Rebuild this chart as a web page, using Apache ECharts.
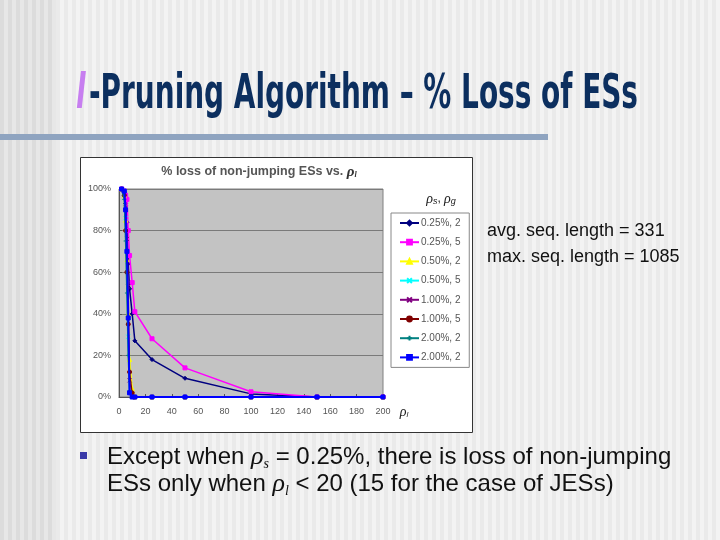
<!DOCTYPE html>
<html><head><meta charset="utf-8">
<script src="https://cdn.jsdelivr.net/npm/echarts@6/dist/echarts.min.js"></script>
<style>html,body{margin:0;padding:0;background:#f2f2f2}#c{width:720px;height:540px}</style>
</head><body><div id="c"></div>
<script>
// ---- data ----
const xs = [2, 4, 5, 6, 7, 8, 10, 12, 25, 50, 100, 150, 200];
const seriesNames = ['0.25%, 2', '0.25%, 5', '0.50%, 2', '0.50%, 5', '1.00%, 2', '1.00%, 5', '2.00%, 2', '2.00%, 2 '];
const s025_2 = [100, 99, 93, 84, 64, 52, 40, 27, 18, 9, 1.5, 0, 0];
const s025_5 = [100, 99, 97, 95, 80, 68, 55, 41, 28, 14, 2.5, 0, 0];
const s050_2 = [100, 97, 85, 66, 40, 18, 4, 0, 0, 0, 0, 0, 0];
const s050_5 = [100, 98, 86, 70, 29, 2, 0, 0, 0, 0, 0, 0, 0];
const s100_2 = [100, 98, 91, 76, 53, 8, 1, 0, 0, 0, 0, 0, 0];
const s100_5 = [100, 97, 80, 60, 35, 12, 2, 0, 0, 0, 0, 0, 0];
const s200_2a = [100, 95, 75, 50, 20, 3, 0, 0, 0, 0, 0, 0, 0];
const s200_2b = [100, 99, 90, 70, 38, 2, 0, 0, 0, 0, 0, 0, 0];
const yTicks = [0, 20, 40, 60, 80, 100];
const xTicks = [0, 20, 40, 60, 80, 100, 120, 140, 160, 180, 200];

// ---- styles ----
const allValues = [s025_2, s025_5, s050_2, s050_5, s100_2, s100_5, s200_2a, s200_2b];
const colors = ['#000080', '#ff00ff', '#ffff00', '#00ffff', '#800080', '#800000', '#008080', '#0000ff'];
const symbols = ['diamond', 'rect', 'triangle', 'path://M0,0L10,10M10,0L0,10', 'path://M0,0L10,10M10,0L0,10', 'circle', 'path://M5,0L5,10M0,5L10,5', 'path://M0,4L10,4L10,6L0,6Z'];
const widths = [1.5, 1.5, 1.5, 1.5, 1.2, 1.2, 1.5, 2];

const chart = echarts.init(document.getElementById('c'), null, {renderer: 'canvas'});

// background stripes
const bg = [];
bg.push({type: 'rect', shape: {x: 0, y: 0, width: 720, height: 540}, style: {fill: '#f3f3f3'}, z: -100});
for (let x = 0; x < 720; x += 8) {
  const dark = x < 56;
  bg.push({type: 'rect', shape: {x: x, y: 0, width: 4, height: 540}, style: {fill: dark ? '#dcdcdc' : '#eaeaea'}, z: -99});
  if (dark) bg.push({type: 'rect', shape: {x: x + 4, y: 0, width: 4, height: 540}, style: {fill: '#e7e7e7'}, z: -99});
}

// title scale via measurement
const titleMain = '-Pruning Algorithm \u2013 % Loss of ESs';
const titleFont = 'bold 48px "Liberation Sans Narrow", "DejaVu Sans Condensed", sans-serif';
const cv = document.createElement('canvas').getContext('2d');
cv.font = titleFont;
const tw = cv.measureText(titleMain).width;
const tScale = 549 / tw;

const rho = {fontFamily: 'Liberation Serif', fontStyle: 'italic', fontSize: 26, fill: '#111'};
const sub = {fontFamily: 'Liberation Serif', fontStyle: 'italic', fontSize: 14, fill: '#111', padding: [14, 0, 0, 0]};
const bodyFont = '24px "Liberation Sans", sans-serif';

const graphics = bg.concat([
  // title
  {type: 'text', x: 76, y: 96, scaleX: tScale, z: 10, style: {text: 'l', font: 'italic bold 48px "Liberation Sans Narrow", "DejaVu Sans Condensed", sans-serif', fill: '#c77ef0', verticalAlign: 'middle'}},
  {type: 'text', x: 89, y: 96, scaleX: tScale, z: 10, style: {text: titleMain, font: titleFont, fill: '#0c2f5f', verticalAlign: 'middle'}},
  // underline bar
  {type: 'rect', shape: {x: 0, y: 134, width: 548, height: 6}, style: {fill: '#8fa4c0'}, z: 10},
  // chart box
  {type: 'rect', shape: {x: 80.5, y: 157.5, width: 392, height: 275}, style: {fill: '#ffffff', stroke: '#333', lineWidth: 1}, z: -50},
  // chart title
  {type: 'text', x: 259, y: 172, z: 10, style: {rich: {a: {font: 'bold 12.5px "Liberation Sans", sans-serif', fill: '#555'}, r: {font: 'bold italic 15px "Liberation Serif", serif', fill: '#333'}, s: {font: 'bold italic 8px "Liberation Serif", serif', fill: '#333', padding: [5, 0, 0, 0]}}, text: '{a|% loss of non-jumping ESs vs. }{r|\u03c1}{s|l}', align: 'center', verticalAlign: 'middle'}},
  // legend header
  {type: 'text', x: 441, y: 199, z: 10, style: {rich: {r: {font: 'italic 14px "Liberation Serif", serif', fill: '#222'}, s: {font: 'italic 9px "Liberation Sans", sans-serif', fill: '#222', padding: [5, 0, 0, 0]}, c: {font: '12px "Liberation Sans", sans-serif', fill: '#222'}}, text: '{r|\u03c1}{s|s}{c|, }{r|\u03c1}{s|g}', align: 'center', verticalAlign: 'middle'}},
  // x axis name
  {type: 'text', x: 404, y: 412, z: 10, style: {rich: {r: {font: 'italic 14px "Liberation Serif", serif', fill: '#222'}, s: {font: 'italic 8px "Liberation Sans", sans-serif', fill: '#222', padding: [5, 0, 0, 0]}}, text: '{r|\u03c1}{s|l}', align: 'center', verticalAlign: 'middle'}},
  // side text
  {type: 'text', x: 487, y: 231, z: 10, style: {text: 'avg. seq. length = 331', font: '18px "Liberation Sans", sans-serif', fill: '#111', verticalAlign: 'middle'}},
  {type: 'text', x: 487, y: 257, z: 10, style: {text: 'max. seq. length = 1085', font: '18px "Liberation Sans", sans-serif', fill: '#111', verticalAlign: 'middle'}},
  // bullet
  {type: 'rect', shape: {x: 80, y: 452, width: 7, height: 7}, style: {fill: '#3a3aa8'}, z: 10},
  {type: 'text', x: 107, y: 457, z: 10, style: {rich: {a: {font: bodyFont, fill: '#111'}, r: rho, s: sub}, text: '{a|Except when }{r|\u03c1}{s|s}{a| = 0.25%, there is loss of non-jumping}', verticalAlign: 'middle'}},
  {type: 'text', x: 107, y: 484, z: 10, style: {rich: {a: {font: bodyFont, fill: '#111'}, r: rho, s: sub}, text: '{a|ESs only when }{r|\u03c1}{s|l}{a| < 20 (15 for the case of JESs)}', verticalAlign: 'middle'}}
]);

const series = allValues.map((vals, i) => ({
  name: seriesNames[i],
  type: 'line',
  data: xs.map((x, j) => [x, vals[j]]),
  symbol: symbols[i],
  symbolSize: 4,
  showAllSymbol: true,
  lineStyle: {color: colors[i], width: widths[i]},
  itemStyle: {color: colors[i], borderColor: colors[i], borderWidth: 1},
  z: 3 + i,
  animation: false
}));

chart.setOption({
  animation: false,
  backgroundColor: 'transparent',
  graphic: {elements: graphics},
  grid: {left: 119, top: 189, width: 264, height: 208, show: true, backgroundColor: '#c3c3c3', borderColor: '#808080', borderWidth: 1, z: 0},
  xAxis: {type: 'value', min: 0, max: 200, interval: 20, z: 2,
    axisLine: {show: true, lineStyle: {color: '#555', width: 1}},
    axisTick: {show: true, inside: true, length: 3, lineStyle: {color: '#555'}},
    axisLabel: {color: '#555', fontSize: 9, fontFamily: 'Liberation Sans', margin: 10,
      customValues: xTicks},
    splitLine: {show: false}},
  yAxis: {type: 'value', min: 0, max: 100, interval: 20, z: 2,
    axisLine: {show: true, lineStyle: {color: '#555', width: 1}},
    axisTick: {show: true, inside: true, length: 3, lineStyle: {color: '#555'}},
    axisLabel: {color: '#555', fontSize: 9, fontFamily: 'Liberation Sans', margin: 8, formatter: '{value}%'},
    splitLine: {show: true, lineStyle: {color: '#7a7a7a', width: 1}}},
  legend: {
    orient: 'vertical', left: 391, top: 213, width: 76,
    padding: [5, 6, 5, 8], itemGap: 9.2, itemWidth: 19, itemHeight: 6,
    backgroundColor: '#ffffff', borderColor: '#888', borderWidth: 1,
    textStyle: {color: '#555', fontSize: 10, fontFamily: 'Liberation Sans', padding: [0, 0, 0, -3]},
    data: seriesNames
  },
  series: series
});
</script></body></html>
